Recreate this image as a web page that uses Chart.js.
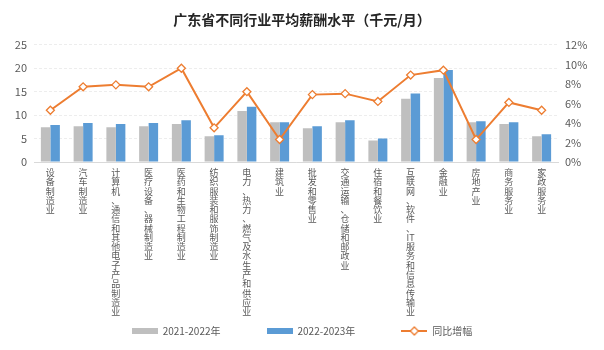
<!DOCTYPE html>
<html lang="zh">
<head>
  <meta charset="UTF-8">
  <title>广东省不同行业平均薪酬水平</title>
  <script src="https://cdn.jsdelivr.net/npm/chart.js"></script>
  <style>
    html, body { margin: 0; padding: 0; background: #fff; }
    #box { width: 604px; height: 350px; }
  </style>
</head>
<body>
  <div id="box"><canvas id="grafica"></canvas></div>

  <script>
    const categorias = [
      '设备制造业', '汽车制造业', '计算机、通信和其他电子产品制造业', '医疗设备、器械制造业',
      '医药和生物工程制造业', '纺织服装和服饰制造业', '电力、热力、燃气及水生产和供应业', '建筑业',
      '批发和零售业', '交通运输、仓储和邮政业', '住宿和餐饮业', '互联网、软件、IT服务和信息传输业',
      '金融业', '房地产业', '商务服务业', '家政服务业'
    ];
    const salario2122 = [7.4, 7.6, 7.4, 7.6, 8.1, 5.5, 10.9, 8.5, 7.2, 8.5, 4.6, 13.5, 17.9, 8.5, 8.1, 5.5];
    const salario2223 = [7.9, 8.3, 8.1, 8.3, 8.9, 5.7, 11.8, 8.5, 7.6, 8.9, 5.0, 14.6, 19.6, 8.7, 8.5, 5.9];
    const incremento = [5.3, 7.7, 7.9, 7.7, 9.6, 3.5, 7.2, 2.3, 6.9, 7.0, 6.2, 8.9, 9.4, 2.3, 6.1, 5.3];
    const ticksIzq = [0, 5, 10, 15, 20, 25];
    const ticksDer = [0, 2, 4, 6, 8, 10, 12];

    const gris = '#BFBFBF';
    const azul = '#5B9BD5';
    const naranja = '#ED7D31';
    const fuente = '"Noto Sans CJK SC", "Noto Sans", sans-serif';
    const hueco = '\u3000\u3000\u3000\u3000'; // separacion entre elementos de la leyenda

    // etiquetas verticales: un caracter por linea ("IT" junto)
    function vertical(txt) {
      const out = [];
      for (let i = 0; i < txt.length; i++) {
        if (txt[i] === 'I' && txt[i + 1] === 'T') { out.push('IT'); i++; }
        else out.push(txt[i]);
      }
      return out;
    }

    // iconos de leyenda
    function cajaLeyenda(color) {
      const c = document.createElement('canvas');
      c.width = 26; c.height = 6;
      const g = c.getContext('2d');
      g.fillStyle = color;
      g.fillRect(0, 0, 26, 6);
      return c;
    }
    function lineaLeyenda() {
      const c = document.createElement('canvas');
      c.width = 26; c.height = 10;
      const g = c.getContext('2d');
      g.strokeStyle = naranja;
      g.lineWidth = 2;
      g.beginPath(); g.moveTo(0, 5); g.lineTo(26, 5); g.stroke();
      g.fillStyle = '#fff';
      g.lineWidth = 1.3;
      g.beginPath(); g.moveTo(13, 1); g.lineTo(17, 5); g.lineTo(13, 9); g.lineTo(9, 5); g.closePath();
      g.fill(); g.stroke();
      return c;
    }
    const iconos = [cajaLeyenda(gris), cajaLeyenda(azul), lineaLeyenda()];

    const ctx = document.getElementById('grafica').getContext('2d');
    new Chart(ctx, {
      data: {
        labels: categorias.map(vertical),
        datasets: [
          {
            type: 'bar',
            label: '2021-2022年',
            data: salario2122,
            backgroundColor: gris,
            yAxisID: 'y',
            order: 1,
            barPercentage: 1,
            categoryPercentage: 0.58
          },
          {
            type: 'bar',
            label: '2022-2023年',
            data: salario2223,
            backgroundColor: azul,
            yAxisID: 'y',
            order: 1,
            barPercentage: 1,
            categoryPercentage: 0.58
          },
          {
            type: 'line',
            label: '同比增幅',
            data: incremento,
            borderColor: naranja,
            borderWidth: 2,
            pointStyle: 'rectRot',
            pointRadius: 4,
            pointBorderWidth: 1.3,
            pointBackgroundColor: '#fff',
            pointBorderColor: naranja,
            yAxisID: 'y2',
            order: 0,
            tension: 0
          }
        ]
      },
      options: {
        responsive: true,
        maintainAspectRatio: false,
        animation: false,
        layout: { padding: { left: 0, right: 0, top: 0, bottom: 4 } },
        scales: {
          x: {
            grid: { display: false, drawTicks: false },
            border: { display: true, color: '#D9D9D9' },
            ticks: {
              autoSkip: false,
              maxRotation: 0,
              minRotation: 0,
              padding: 6,
              color: '#595959',
              font: { family: fuente, size: 9, lineHeight: 1.03 }
            },
            afterFit: (s) => { s.height = 158; }
          },
          y: {
            position: 'left',
            min: 0,
            max: 25,
            afterBuildTicks: (s) => { s.ticks = ticksIzq.map(v => ({ value: v })); },
            grid: { color: '#EDEDED', drawTicks: false },
            border: { display: false, dash: [3, 2] },
            ticks: {
              padding: 7,
              color: '#595959',
              font: { family: fuente, size: 11 }
            },
            afterFit: (s) => { s.width = 34; }
          },
          y2: {
            position: 'right',
            min: 0,
            max: 12,
            afterBuildTicks: (s) => { s.ticks = ticksDer.map(v => ({ value: v })); },
            grid: { drawOnChartArea: false, drawTicks: false },
            border: { display: false },
            ticks: {
              padding: 7,
              color: '#595959',
              font: { family: fuente, size: 11 },
              callback: (v) => v + '%'
            },
            afterFit: (s) => { s.width = 46; }
          }
        },
        plugins: {
          title: {
            display: true,
            text: '广东省不同行业平均薪酬水平（千元/月）',
            color: '#262626',
            font: { family: fuente, size: 14, weight: 'bold' },
            padding: { top: 11, bottom: 17 }
          },
          legend: {
            position: 'bottom',
            labels: {
              usePointStyle: true,
              pointStyleWidth: 26,
              boxHeight: 8,
              padding: 6,
              color: '#595959',
              font: { family: fuente, size: 10 },
              generateLabels: (chart) => {
                const items = Chart.defaults.plugins.legend.labels.generateLabels(chart);
                items.sort((a, b) => a.datasetIndex - b.datasetIndex);
                items.forEach(it => {
                  it.pointStyle = iconos[it.datasetIndex];
                  it.lineWidth = 0;
                  if (it.datasetIndex < 2) it.text += hueco;
                });
                return items;
              }
            }
          },
          tooltip: { enabled: false }
        }
      }
    });
  </script>
</body>
</html>
